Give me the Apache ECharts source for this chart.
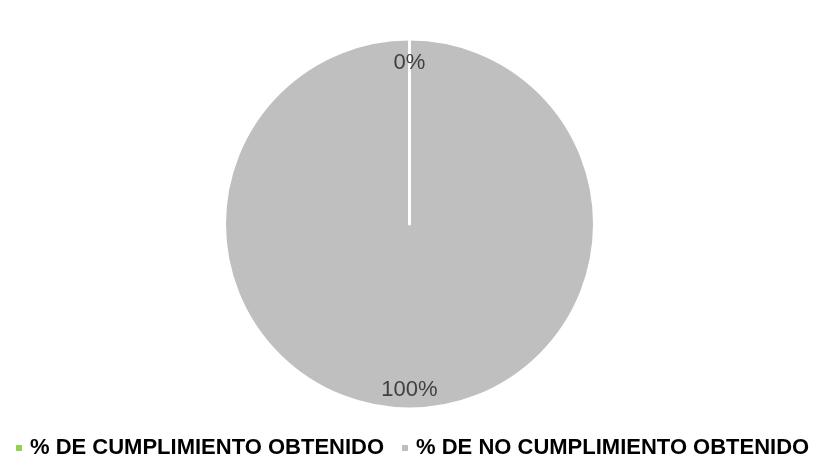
<!DOCTYPE html>
<html>
<head>
<meta charset="utf-8">
<title>ECharts</title>
<script type="text/javascript" src="https://cdn.jsdelivr.net/npm/echarts@6/dist/echarts.min.js"></script>
<style type="text/css">
html, body {
	margin: 0;
	height: 100%;
	overflow: hidden;
	background: #ffffff;
}
</style>
</head>
<body>
	<div id="main" style="width: 816px; height: 461px;"></div>
	<script type="text/javascript">
		// 图例顺序
		var legendNames = ['% DE CUMPLIMIENTO OBTENIDO', '% DE NO CUMPLIMIENTO OBTENIDO'];
		var legendColors = ['#92D050', '#BFBFBF'];
		// 饼图数据（先画 100%，让 0% 的白线在上面）
		var sliceNames = ['% DE NO CUMPLIMIENTO OBTENIDO', '% DE CUMPLIMIENTO OBTENIDO'];
		var sliceValues = [100, 0];
		var sliceColors = ['#BFBFBF', '#92D050'];

		var myChart = echarts.init(document.getElementById('main'));

		var pieData = sliceNames.map(function(n, i) {
			return { name: n, value: sliceValues[i], itemStyle: { color: sliceColors[i] } };
		});
		var labelData = sliceNames.map(function(n, i) {
			var d = { name: n, value: sliceValues[i] };
			// 0 的扇区标签稍微往下
			if (sliceValues[i] === 0) {
				d.label = { offset: [0, 5] };
			}
			return d;
		});

		var option = {
			animation: false,
			textStyle: { fontFamily: 'Liberation Sans, Arial, sans-serif' },
			legend: {
				data: legendNames.map(function(n, i) {
					return { name: n, itemStyle: { color: legendColors[i] } };
				}),
				left: 14,
				top: 437,
				padding: 0,
				itemWidth: 8,
				itemHeight: 8,
				itemGap: 16,
				icon: 'rect',
				selectedMode: false,
				textStyle: {
					fontSize: 22,
					fontWeight: 'bold',
					color: '#000000',
					padding: [0, 0, 0, 2],
					fontFamily: 'Liberation Sans, Arial, sans-serif'
				}
			},
			series: [{
				type: 'pie',
				center: [409.5, 224],
				radius: [0, 185],
				startAngle: 90,
				clockwise: true,
				silent: true,
				stillShowZeroSum: true,
				avoidLabelOverlap: false,
				label: { show: false },
				labelLine: { show: false },
				itemStyle: { borderColor: '#ffffff', borderWidth: 3 },
				data: pieData
			}, {
				// 只用来放标签（Excel 的“数据标签内”效果）
				type: 'pie',
				center: [409.5, 224],
				radius: [142, 184],
				startAngle: 90,
				clockwise: true,
				silent: true,
				avoidLabelOverlap: false,
				itemStyle: { color: 'rgba(0,0,0,0)', borderWidth: 0 },
				label: {
					show: true,
					position: 'inside',
					formatter: '{c}%',
					fontSize: 22,
					color: '#404040',
					fontFamily: 'Liberation Sans, Arial, sans-serif'
				},
				labelLine: { show: false },
				data: labelData
			}]
		};
		myChart.setOption(option);
	</script>
</body>
</html>
